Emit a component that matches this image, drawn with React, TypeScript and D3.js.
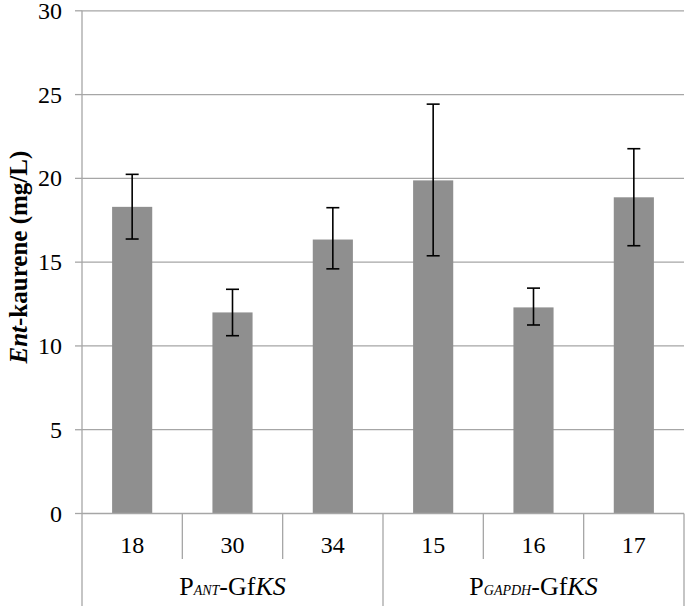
import React from "react";
import * as d3 from "d3";

const categories = ["18", "30", "34", "15", "16", "17"];
const values = [18.3, 12.0, 16.35, 19.88, 12.3, 18.87];
const errUpper = [20.24, 13.38, 18.25, 24.43, 13.45, 21.77];
const errLower = [16.38, 10.61, 14.6, 15.38, 11.25, 15.98];
const yTicks = [0, 5, 10, 15, 20, 25, 30];
const groups = [
  { sub: "ANT", start: 0, end: 3 },
  { sub: "GAPDH", start: 3, end: 6 },
];

const W = 685;
const H = 606;
const left = 82;
const right = 684;
const top = 10.8;
const bottom = 513.5;
const FONT = "Liberation Serif, Times New Roman, serif";

export default function App() {
  const x = d3
    .scaleBand<string>()
    .domain(categories)
    .range([left, right])
    .paddingInner(0.6)
    .paddingOuter(0.3);
  const xb = d3.scaleLinear().domain([0, categories.length]).range([left, right]);
  const y = d3.scaleLinear().domain([0, 30]).range([bottom, top]);
  const grid = "#a6a6a6";
  const capW = 6.5;
  const ts = { fontFamily: FONT };

  return (
    <svg
      width={W}
      height={H}
      style={{ position: "absolute", left: 0, top: 0, background: "#fff", fontFamily: FONT }}
    >
      {yTicks.map((t) => (
        <g key={t}>
          {t > 0 && (
            <line x1={left} x2={right} y1={y(t)} y2={y(t)} stroke={grid} strokeWidth={1.3} />
          )}
          <line x1={left - 7} x2={left} y1={y(t)} y2={y(t)} stroke={grid} strokeWidth={1.3} />
          <text x={62} y={y(t) + 8} textAnchor="end" fontSize={24} fill="#000" style={ts}>
            {t}
          </text>
        </g>
      ))}
      {categories.map((c, i) => (
        <rect
          key={c}
          x={x(c)}
          y={y(values[i])}
          width={x.bandwidth()}
          height={y(0) - y(values[i])}
          fill="#8f8f8f"
        />
      ))}
      {categories.map((c, i) => {
        const cx = (x(c) as number) + x.bandwidth() / 2;
        return (
          <g key={"e" + c} stroke="#000" strokeWidth={1.6}>
            <line x1={cx} x2={cx} y1={y(errUpper[i])} y2={y(errLower[i])} />
            <line x1={cx - capW} x2={cx + capW} y1={y(errUpper[i])} y2={y(errUpper[i])} />
            <line x1={cx - capW} x2={cx + capW} y1={y(errLower[i])} y2={y(errLower[i])} />
          </g>
        );
      })}
      <line x1={left} x2={left} y1={top} y2={H} stroke={grid} strokeWidth={1.3} />
      <line x1={left} x2={right} y1={bottom} y2={bottom} stroke={grid} strokeWidth={1.3} />
      <line x1={right} x2={right} y1={bottom} y2={H} stroke={grid} strokeWidth={1.3} />
      {d3.range(1, categories.length).map((i) => (
        <line
          key={"d" + i}
          x1={xb(i)}
          x2={xb(i)}
          y1={bottom}
          y2={i === 3 ? H : 559}
          stroke={grid}
          strokeWidth={1.3}
        />
      ))}
      {categories.map((c) => (
        <text
          key={"l" + c}
          x={(x(c) as number) + x.bandwidth() / 2}
          y={553}
          textAnchor="middle"
          fontSize={24}
          style={ts}
        >
          {c}
        </text>
      ))}
      {groups.map((g) => (
        <text
          key={g.sub}
          x={(xb(g.start) + xb(g.end)) / 2}
          y={595}
          textAnchor="middle"
          fontSize={26}
          style={ts}
        >
          <tspan>P</tspan>
          <tspan fontSize={14} fontStyle="italic">
            {g.sub}
          </tspan>
          <tspan>-Gf</tspan>
          <tspan fontStyle="italic">KS</tspan>
        </text>
      ))}
      <text
        transform={`translate(27,${(top + bottom) / 2 - 5}) rotate(-90)`}
        textAnchor="middle"
        fontSize={25}
        fontWeight="bold"
        style={ts}
      >
        <tspan fontStyle="italic">Ent</tspan>
        <tspan>-kaurene (mg/L)</tspan>
      </text>
    </svg>
  );
}
